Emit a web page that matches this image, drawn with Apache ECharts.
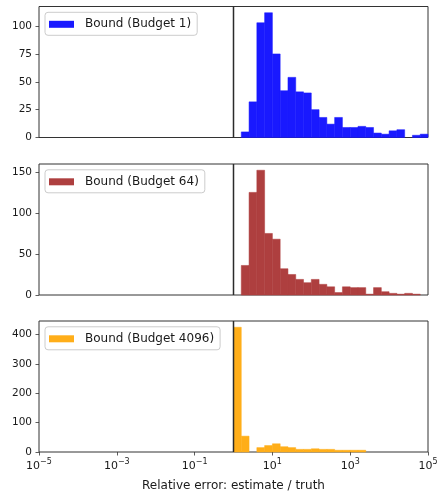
<!DOCTYPE html>
<html>
<head>
<meta charset="utf-8">
<script src="https://cdn.jsdelivr.net/npm/echarts@6/dist/echarts.min.js"></script>
<style>
  html, body { margin: 0; padding: 0; background: #ffffff; }
  #chart { width: 439px; height: 493px; }
</style>
</head>
<body>
<div id="chart"></div>
<script>
// Histogram bin edges, as powers of ten (0.2-decade bins from 10^0 to 10^5)
const binEdgeExponents = [0, 0.2, 0.4, 0.6, 0.8, 1.0, 1.2, 1.4, 1.6, 1.8, 2.0, 2.2, 2.4,
  2.6, 2.8, 3.0, 3.2, 3.4, 3.6, 3.8, 4.0, 4.2, 4.4, 4.6, 4.8, 5.0];

// Counts per bin for each budget
const budget1Counts = [0, 5, 32, 103, 112, 75, 42, 54, 41, 40, 25, 18, 12, 18, 9, 9, 10, 9, 4, 3, 6, 7, 0, 2, 3];
const budget64Counts = [0, 36, 125, 152, 75, 68, 32, 25, 19, 15, 19, 13, 10, 3, 10, 9, 9, 1, 9, 4, 2, 1, 2, 1, 0];
const budget4096Counts = [425, 54, 0, 15, 22, 28, 18, 15, 9, 9, 11, 9, 9, 6, 6, 6, 6, 0, 0, 0, 0, 0, 0, 0, 0];

const seriesNames = ['Bound (Budget 1)', 'Bound (Budget 64)', 'Bound (Budget 4096)'];
const seriesColors = ['#1919ff', '#ae3f3f', '#ffae19'];
const allCounts = [budget1Counts, budget64Counts, budget4096Counts];

// Axis ticks
const xTickValues = [1e-5, 1e-3, 1e-1, 1e1, 1e3, 1e5];
const yTicks = [
  [0, 25, 50, 75, 100],
  [0, 50, 100, 150],
  [0, 100, 200, 300, 400]
];
const truthRatio = 1;
const xLabel = 'Relative error: estimate / truth';

const FONT = 'DejaVu Sans';
const TEXT = '#1a1a1a';
const SPINE = '#333333';

const grids = [
  { left: 39, right: 11, top: 6.5, height: 131 },
  { left: 39, right: 11, top: 164, height: 131 },
  { left: 39, right: 11, top: 321, height: 131 }
];

function binData(counts) {
  const out = [];
  counts.forEach((c, i) => {
    if (c > 0) out.push([Math.pow(10, binEdgeExponents[i]), Math.pow(10, binEdgeExponents[i + 1]), c]);
  });
  return out;
}

function fmtExp(v) {
  const e = Math.round(Math.log10(v));
  return '{b|10}{s|' + (e < 0 ? '\u2212' + (-e) : String(e)) + '}';
}

const chart = echarts.init(document.getElementById('chart'), null, { renderer: 'canvas' });

const option = {
  animation: false,
  backgroundColor: '#ffffff',
  grid: grids.map(g => Object.assign({
    show: true, borderColor: SPINE, borderWidth: 1, backgroundColor: 'transparent',
    containLabel: false, outerBoundsMode: 'none'
  }, g)),
  xAxis: grids.map((g, i) => ({
    type: 'log',
    logBase: 10,
    gridIndex: i,
    min: 1e-5,
    max: 1e5,
    axisLine: { show: false },
    splitLine: { show: false },
    minorTick: { show: false },
    axisTick: {
      show: i === 2,
      length: 3.5,
      lineStyle: { color: SPINE, width: 0.8 },
      customValues: xTickValues
    },
    axisLabel: {
      show: i === 2,
      margin: 6,
      customValues: xTickValues,
      formatter: fmtExp,
      rich: {
        b: { fontSize: 11, fontFamily: FONT, color: TEXT },
        s: { fontSize: 8, fontFamily: FONT, color: TEXT, padding: [0, 0, 8, 0] }
      }
    },
    name: i === 2 ? xLabel : '',
    nameLocation: 'middle',
    nameGap: 28,
    nameTextStyle: { fontSize: 12, fontFamily: FONT, color: TEXT }
  })),
  yAxis: grids.map((g, i) => ({
    type: 'value',
    gridIndex: i,
    min: 0,
    max: Math.max.apply(null, allCounts[i]) * 1.05,
    axisLine: { show: false },
    splitLine: { show: false },
    axisTick: {
      show: true,
      length: 3.5,
      lineStyle: { color: SPINE, width: 0.8 },
      customValues: yTicks[i]
    },
    axisLabel: {
      margin: 7,
      fontSize: 10.5,
      fontFamily: FONT,
      color: TEXT,
      customValues: yTicks[i]
    }
  })),
  legend: grids.map((g, i) => ({
    left: 45,
    top: g.top + 5.8,
    orient: 'vertical',
    data: [{ name: seriesNames[i], icon: 'rect', itemStyle: { color: seriesColors[i] } }],
    itemWidth: 25,
    itemHeight: 7,
    padding: [5, 6, 4, 4],
    backgroundColor: 'rgba(255,255,255,0.8)',
    borderColor: '#cccccc',
    borderWidth: 1,
    borderRadius: 3,
    textStyle: { fontSize: 12, fontFamily: FONT, color: TEXT, padding: [0, 0, 0, 6], lineHeight: 14 }
  })),
  series: []
};

allCounts.forEach((counts, i) => {
  option.series.push({
    type: 'custom',
    name: seriesNames[i],
    xAxisIndex: i,
    yAxisIndex: i,
    itemStyle: { color: seriesColors[i] },
    encode: { x: [0, 1], y: 2 },
    data: binData(counts),
    renderItem: function (params, api) {
      const p0 = api.coord([api.value(0), 0]);
      const p1 = api.coord([api.value(1), api.value(2)]);
      return {
        type: 'rect',
        shape: { x: p0[0], y: p1[1], width: p1[0] - p0[0], height: p0[1] - p1[1] },
        style: { fill: seriesColors[i], stroke: seriesColors[i], lineWidth: 0.5 }
      };
    },
    z: 2
  });
  // Reference line where the estimate equals the truth
  const yMax = Math.max.apply(null, counts) * 1.05;
  option.series.push({
    type: 'line',
    name: 'ref' + i,
    xAxisIndex: i,
    yAxisIndex: i,
    data: [[truthRatio, 0], [truthRatio, yMax]],
    symbol: 'none',
    silent: true,
    lineStyle: { color: '#2b2b2b', width: 1.5 },
    z: 5
  });
});

chart.setOption(option);
</script>
</body>
</html>
